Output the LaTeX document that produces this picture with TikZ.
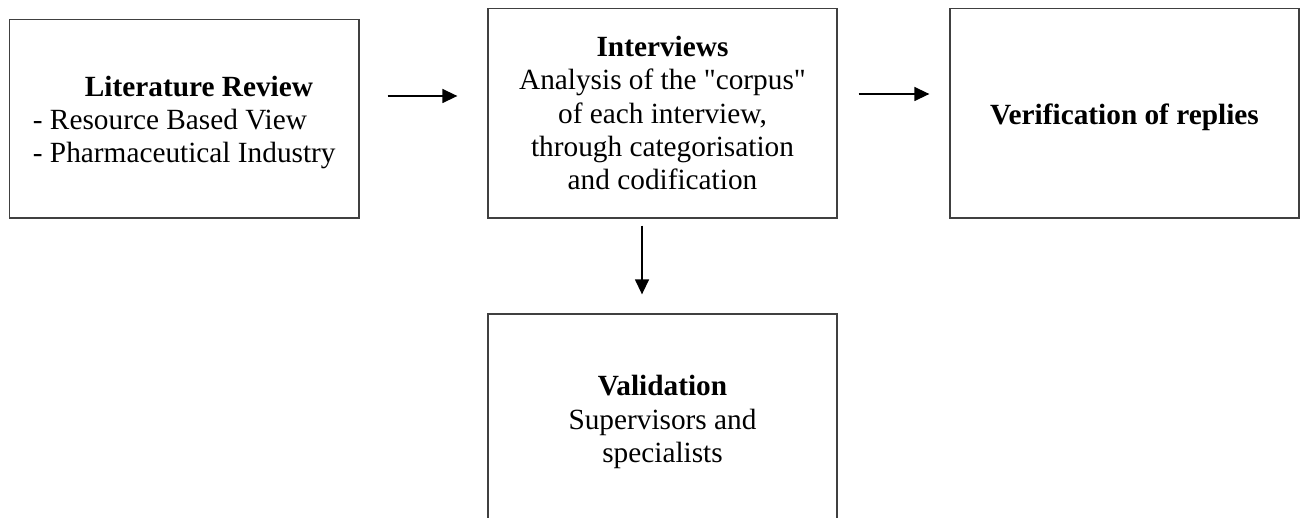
\documentclass[tikz,border=0pt]{standalone}
\usepackage{fontspec}
\setmainfont{Liberation Serif}[Ligatures=TeXOff]
\usetikzlibrary{arrows.meta}
\tikzset{
  boxnode/.style={draw=black!75, line width=1.3pt, rectangle, inner sep=0pt,
    minimum width=349pt, align=center,
    font=\fontsize{29.3}{33.3}\selectfont},
  arr/.style={line width=1.4pt, -{Triangle[length=15pt,width=14pt]}}
}
\begin{document}
\begin{tikzpicture}[x=1pt,y=-1pt]
\path[use as bounding box, clip] (0,0) rectangle (1304,518);
\node[boxnode, minimum width=349.5pt, minimum height=198.5pt, align=left] (lit) at (184.25,118.75)
  {\rule{0pt}{28pt}\hspace*{52pt}\textbf{Literature Review}\\- Resource Based View\\- Pharmaceutical Industry};
\node[boxnode, minimum height=209.5pt] (int) at (662.5,113.25)
  {\textbf{Interviews}\\Analysis of the "corpus"\\of each interview,\\through categorisation\\and codification};
\node[boxnode, minimum height=209.5pt] (ver) at (1124.5,113.25)
  {\rule{0pt}{28.5pt}\textbf{Verification of replies}};
\node[boxnode, minimum height=216pt] (val) at (662.5,422)
  {\textbf{Validation}\\Supervisors and\\specialists};
\draw[arr, shorten <=28pt, shorten >=30pt] (lit.east |- 0,96) -- (int.west |- 0,96);
\draw[arr, shorten <=21pt, shorten >=20pt] (int.east |- 0,94) -- (ver.west |- 0,94);
\draw[arr, shorten <=7pt, shorten >=19pt] (int.south -| 642,0) -- (val.north -| 642,0);
\end{tikzpicture}
\end{document}
